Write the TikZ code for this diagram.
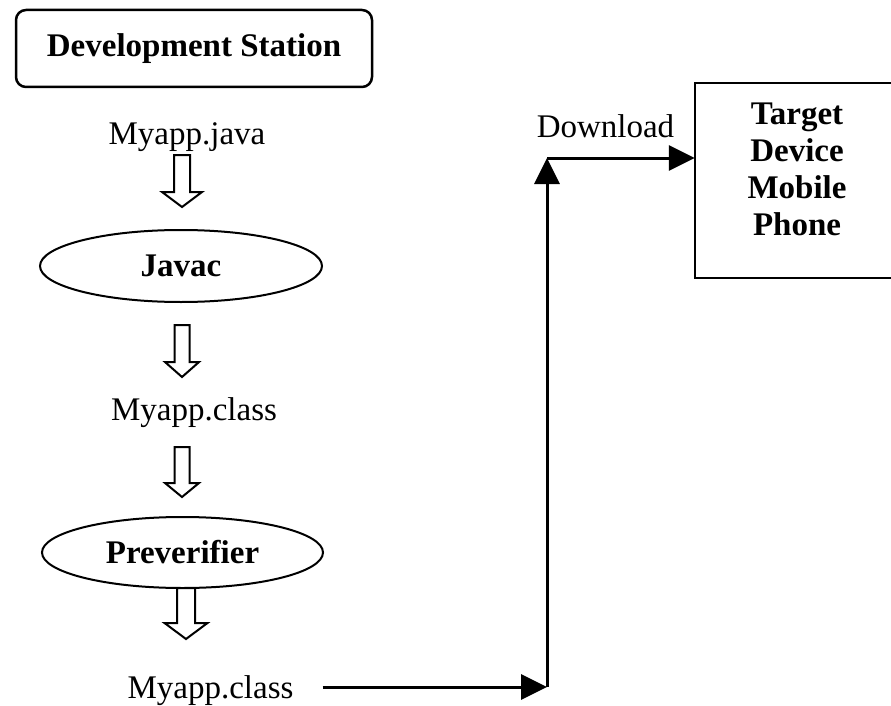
\documentclass[tikz,border=0pt]{standalone}
\usepackage{fontspec}
\setmainfont{Liberation Serif}
\usetikzlibrary{shapes.geometric,arrows.meta}

% Hollow block arrow pointing down: length, shaft half-width, head half-width, head length
\tikzset{
  pics/hollowdown/.style n args={4}{code={
    \draw[hollow] (-#2,0) -- (-#2,{#1-#4}) -- (-#3,{#1-#4}) -- (0,#1)
      -- (#3,{#1-#4}) -- (#2,{#1-#4}) -- (#2,0) -- cycle;
  }}
}

\begin{document}
\begin{tikzpicture}[x=1pt,y=-1pt,
  txt/.style={font=\fontsize{33}{36.7}\selectfont},
  btxt/.style={font=\fontsize{33}{37}\selectfont\bfseries},
  plain/.style={txt,inner sep=0pt},
  stationbox/.style={btxt,draw,line width=2.5pt,rounded corners=10pt,
    minimum width=356pt,minimum height=77pt},
  tool/.style={btxt,draw,ellipse,line width=2pt,inner sep=0pt},
  devicebox/.style={btxt,align=center,inner sep=0pt,
    minimum width=204pt,minimum height=195pt},
  hollow/.style={draw,line width=2pt,fill=white,line join=miter},
  conn/.style={line width=3pt,-{Triangle[length=26pt,width=25pt]}}
]
\useasboundingbox (0,0) rectangle (891,706);

% Left column: build chain
\node[stationbox] (station) at (194,48.5) {Development Station};
\node[plain,anchor=base] (java) at (187,145) {Myapp.java};
\node[tool,minimum width=282pt,minimum height=72pt] (javac) at (181,266) {Javac};
\node[plain,anchor=base] (class1) at (194,420) {Myapp.class};
\node[tool,minimum width=281pt,minimum height=71pt] (prever) at (182.5,552.5) {Preverifier};
\node[plain,anchor=base] (class2) at (210.5,698) {Myapp.class};

% Hollow arrows between the steps
\pic at (182,155) {hollowdown={52}{8}{20}{15}};
\pic at (182,325) {hollowdown={52}{7.5}{17}{15}};
\pic at (182,447) {hollowdown={50}{7.5}{17}{14}};
\pic at (186,588) {hollowdown={51}{9}{21.5}{16}};

% Target device (open on the right side)
\node[devicebox] (target) at (797,180.5)
  {Target\\Device\\Mobile\\Phone\rule[-23pt]{0pt}{0pt}};
\draw[line width=2.5pt]
  ([xshift=200pt]target.north west) -- (target.north west)
  -- (target.south west) -- ([xshift=200pt]target.south west);

\node[plain,anchor=base] (dl) at (605.5,138) {Download};

% Download path
\coordinate (turn1) at (547,687);
\coordinate (turn2) at (547,158);
\draw[conn] ([xshift=29pt]class2.east |- turn1) -- (turn1);
\draw[conn] (turn1) -- (turn2);
\draw[conn] (turn2) -- (target.west |- turn2);
\end{tikzpicture}
\end{document}
